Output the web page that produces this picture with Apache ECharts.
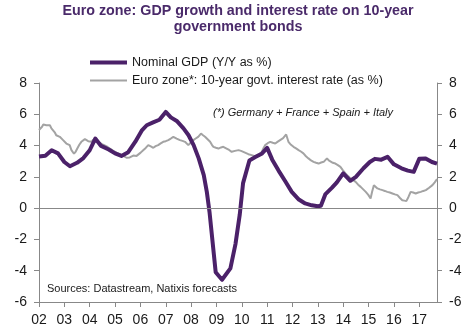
<!DOCTYPE html>
<html>
<head>
<meta charset="utf-8">
<script src="https://cdn.jsdelivr.net/npm/echarts@6/dist/echarts.min.js"></script>
<style>
  html, body { margin: 0; padding: 0; background: #ffffff; }
  #chart { width: 476px; height: 332px; }
</style>
</head>
<body>
<div id="chart"></div>
<script>
// Nominal GDP growth, Y/Y %, dated as decimal years
const gdpDates = [
  2002.00, 2002.25, 2002.50, 2002.75, 2003.00, 2003.22, 2003.50, 2003.75,
  2004.00, 2004.22, 2004.45, 2004.75, 2005.00, 2005.25, 2005.52, 2005.80,
  2006.05, 2006.25, 2006.50, 2006.75, 2007.00, 2007.20, 2007.45, 2007.70,
  2007.90, 2008.10, 2008.30, 2008.50, 2008.62, 2008.73, 2008.97, 2009.22,
  2009.55, 2009.75, 2009.92, 2010.05, 2010.30, 2010.55, 2010.80, 2011.00,
  2011.20, 2011.45, 2011.72, 2011.97, 2012.25, 2012.50, 2012.76, 2013.00,
  2013.12, 2013.30, 2013.55, 2013.75, 2014.00, 2014.28, 2014.50, 2014.80,
  2015.05, 2015.25, 2015.50, 2015.75, 2016.00, 2016.30, 2016.55, 2016.78,
  2017.00, 2017.25, 2017.50, 2017.70
];
const gdpValues = [
  3.30, 3.35, 3.70, 3.50, 2.95, 2.68, 2.90, 3.20,
  3.70, 4.45, 3.98, 3.75, 3.50, 3.34, 3.58, 4.25,
  4.95, 5.30, 5.48, 5.65, 6.15, 5.80, 5.55, 5.10,
  4.66, 4.03, 3.18, 2.11, 1.04, -0.30, -4.10, -4.58,
  -3.85, -2.30, -0.40, 1.60, 3.05, 3.28, 3.50, 3.85,
  3.10, 2.40, 1.70, 1.04, 0.55, 0.30, 0.18, 0.12,
  0.15, 0.90, 1.30, 1.65, 2.22, 1.75, 2.00, 2.55,
  2.95, 3.15, 3.10, 3.28, 2.80, 2.55, 2.40, 2.32,
  3.15, 3.18, 2.95, 2.85
];

// Euro zone 10-year government bond yield, %
const rateDates = [
  2002.00, 2002.06, 2002.12, 2002.17, 2002.22, 2002.29, 2002.36, 2002.43,
  2002.49, 2002.55, 2002.62, 2002.68, 2002.75, 2002.82, 2002.88, 2002.95,
  2003.02, 2003.08, 2003.15, 2003.21, 2003.28, 2003.33, 2003.38, 2003.45,
  2003.51, 2003.59, 2003.67, 2003.74, 2003.81, 2003.88, 2003.94, 2004.00,
  2004.07, 2004.14, 2004.20, 2004.27, 2004.33, 2004.40, 2004.46, 2004.53,
  2004.60, 2004.67, 2004.73, 2004.80, 2004.86, 2004.93, 2004.99, 2005.06,
  2005.12, 2005.19, 2005.25, 2005.32, 2005.39, 2005.45, 2005.52, 2005.58,
  2005.65, 2005.72, 2005.78, 2005.85, 2005.91, 2006.01, 2006.11, 2006.21,
  2006.31, 2006.41, 2006.51, 2006.60, 2006.70, 2006.80, 2006.90, 2007.00,
  2007.10, 2007.20, 2007.30, 2007.36, 2007.43, 2007.50, 2007.56, 2007.66,
  2007.76, 2007.83, 2007.89, 2007.99, 2008.09, 2008.18, 2008.28, 2008.34,
  2008.39, 2008.47, 2008.55, 2008.65, 2008.75, 2008.82, 2008.88, 2008.98,
  2009.08, 2009.18, 2009.27, 2009.34, 2009.40, 2009.50, 2009.60, 2009.73,
  2009.87, 2009.97, 2010.06, 2010.13, 2010.26, 2010.39, 2010.49, 2010.59,
  2010.69, 2010.79, 2010.86, 2010.92, 2011.02, 2011.12, 2011.22, 2011.32,
  2011.42, 2011.51, 2011.63, 2011.70, 2011.75, 2011.84, 2011.94, 2012.04,
  2012.14, 2012.24, 2012.33, 2012.43, 2012.53, 2012.63, 2012.73, 2012.83,
  2012.93, 2013.03, 2013.13, 2013.23, 2013.30, 2013.36, 2013.43, 2013.49,
  2013.59, 2013.69, 2013.79, 2013.89, 2013.99, 2014.09, 2014.19, 2014.29,
  2014.39, 2014.49, 2014.59, 2014.69, 2014.79, 2014.89, 2014.99, 2015.08,
  2015.14, 2015.21, 2015.28, 2015.35, 2015.45, 2015.55, 2015.64, 2015.74,
  2015.84, 2015.94, 2016.04, 2016.14, 2016.24, 2016.33, 2016.41, 2016.49,
  2016.57, 2016.66, 2016.76, 2016.86, 2016.96, 2017.06, 2017.16, 2017.26,
  2017.39, 2017.52, 2017.61, 2017.70
];
const rateValues = [
  5.00, 5.12, 5.20, 5.35, 5.38, 5.30, 5.26, 5.30,
  5.10, 4.98, 4.85, 4.66, 4.72, 4.56, 4.48, 4.35,
  4.40, 4.13, 4.20, 4.03, 3.71, 3.60, 3.48, 3.62,
  3.81, 4.05, 4.24, 4.30, 4.41, 4.30, 4.28, 4.35,
  4.24, 4.38, 4.45, 4.32, 4.24, 4.18, 4.13, 4.05,
  3.98, 3.95, 3.92, 3.80, 3.71, 3.66, 3.60, 3.55,
  3.50, 3.45, 3.39, 3.35, 3.28, 3.22, 3.18, 3.24,
  3.28, 3.36, 3.43, 3.34, 3.39, 3.55, 3.70, 3.85,
  4.03, 3.95, 3.86, 3.96, 4.03, 4.14, 4.24, 4.28,
  4.35, 4.45, 4.56, 4.50, 4.45, 4.40, 4.35, 4.30,
  4.24, 4.12, 4.03, 4.20, 4.35, 4.45, 4.56, 4.68,
  4.77, 4.66, 4.56, 4.40, 4.24, 4.05, 3.92, 3.86,
  3.81, 3.88, 3.92, 3.86, 3.81, 3.72, 3.60, 3.66,
  3.71, 3.66, 3.60, 3.50, 3.45, 3.39, 3.34, 3.28,
  3.40, 3.60, 3.85, 4.03, 4.15, 4.24, 4.18, 4.13,
  4.25, 4.35, 4.48, 4.60, 4.71, 4.24, 4.05, 3.92,
  3.82, 3.71, 3.62, 3.50, 3.32, 3.18, 3.05, 2.96,
  2.90, 2.85, 2.92, 2.96, 3.08, 3.18, 3.05, 2.96,
  2.90, 2.85, 2.75, 2.64, 2.42, 2.22, 2.05, 1.90,
  1.80, 1.68, 1.50, 1.36, 1.20, 1.04, 0.85, 0.62,
  1.05, 1.47, 1.35, 1.26, 1.20, 1.15, 1.10, 1.04,
  1.00, 0.94, 0.88, 0.83, 0.65, 0.51, 0.48, 0.45,
  0.70, 1.04, 1.00, 0.94, 1.00, 1.04, 1.10, 1.15,
  1.30, 1.47, 1.65, 1.85
];

const yearLabels = ['02', '03', '04', '05', '06', '07', '08', '09',
                    '10', '11', '12', '13', '14', '15', '16', '17'];
const yTicks = [-6, -4, -2, 0, 2, 4, 6, 8];

const seriesNames = ['Nominal GDP (Y/Y as %)', 'Euro zone*: 10-year govt. interest rate (as %)'];
const titleLines = ['Euro zone: GDP growth and interest rate on 10-year', 'government bonds'];
const noteText = '(*) Germany + France + Spain + Italy';
const sourceText = 'Sources: Datastream, Natixis forecasts';

const PURPLE = '#4b2169';
const GREY = '#a3a3a3';
const AXIS = '#888888';
const FONT = 'Liberation Sans, Arial, sans-serif';

const pairs = (xs, ys) => xs.map((x, i) => [x, ys[i]]);

const yAxisBase = {
  type: 'value',
  min: yTicks[0],
  max: yTicks[yTicks.length - 1],
  interval: 2,
  splitLine: { show: false },
  axisLine: { show: true, lineStyle: { color: AXIS, width: 1 } },
  axisTick: { show: true, length: 5, lineStyle: { color: AXIS } },
  axisLabel: { color: '#1a1a1a', fontSize: 14, fontFamily: FONT, margin: 12 }
};

const chart = echarts.init(document.getElementById('chart'), null, { renderer: 'canvas' });

chart.setOption({
  animation: false,
  backgroundColor: '#ffffff',
  title: {
    text: titleLines.join('\n'),
    left: 'center',
    top: -2,
    textStyle: {
      color: '#4a2a6a', fontSize: 14.3, fontWeight: 'bold',
      fontFamily: FONT, lineHeight: 16
    }
  },
  legend: [
    {
      data: [{ name: seriesNames[0], icon: 'rect' }],
      left: 85, top: 51,
      itemWidth: 37, itemHeight: 4,
      textStyle: { color: '#1a1a1a', fontSize: 12.5, fontFamily: FONT },
      selectedMode: false
    },
    {
      data: [{ name: seriesNames[1], icon: 'rect' }],
      left: 85, top: 69,
      itemWidth: 37, itemHeight: 2,
      textStyle: { color: '#1a1a1a', fontSize: 12.5, fontFamily: FONT },
      selectedMode: false
    }
  ],
  grid: { left: 39, right: 39, top: 83, bottom: 30, containLabel: false },
  xAxis: {
    type: 'value',
    min: 2002,
    max: 2017.7,
    interval: 1,
    splitLine: { show: false },
    axisLine: { show: true, onZero: false, lineStyle: { color: AXIS, width: 1 } },
    axisTick: { show: true, length: 5, lineStyle: { color: AXIS } },
    axisLabel: {
      color: '#1a1a1a', fontSize: 14, fontFamily: FONT, margin: 11,
      showMaxLabel: false,
      formatter: v => {
        const i = Math.round(v) - 2002;
        return Math.abs(v - Math.round(v)) < 1e-6 && yearLabels[i] ? yearLabels[i] : '';
      }
    }
  },
  yAxis: [
    Object.assign({}, yAxisBase, { position: 'left' }),
    Object.assign({}, yAxisBase, { position: 'right' })
  ],
  series: [
    {
      name: seriesNames[1],
      type: 'line',
      data: pairs(rateDates, rateValues),
      symbol: 'none',
      lineStyle: { color: GREY, width: 2 },
      itemStyle: { color: GREY },
      z: 2,
      markLine: {
        silent: true,
        symbol: 'none',
        label: { show: false },
        lineStyle: { color: AXIS, width: 1, type: 'solid' },
        data: [{ yAxis: 0 }]
      }
    },
    {
      name: seriesNames[0],
      type: 'line',
      data: pairs(gdpDates, gdpValues),
      symbol: 'none',
      lineStyle: { color: PURPLE, width: 4, join: 'round' },
      itemStyle: { color: PURPLE },
      z: 3
    }
  ],
  graphic: [
    {
      type: 'text', left: 213, top: 107,
      style: { text: noteText, fill: '#1a1a1a', font: 'italic 11px ' + FONT }
    },
    {
      type: 'text', left: 47, top: 283,
      style: { text: sourceText, fill: '#1a1a1a', font: '11px ' + FONT }
    }
  ]
});
</script>
</body>
</html>
